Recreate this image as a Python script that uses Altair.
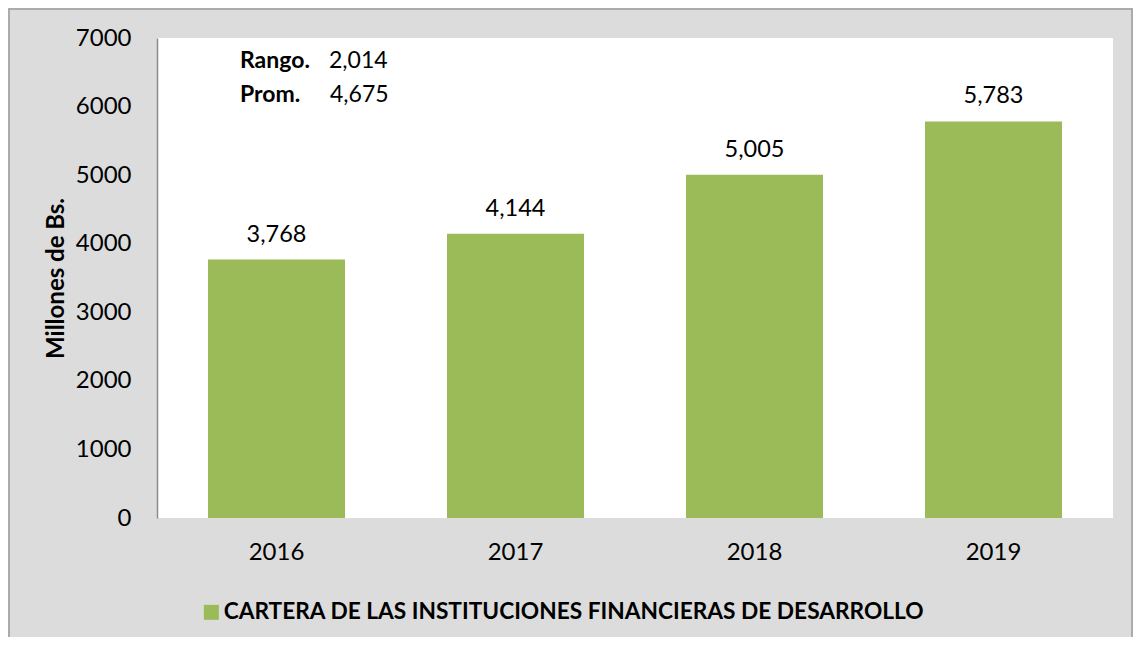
import altair as alt
import pandas as pd

years = ["2016", "2017", "2018", "2019"]
values = [3768, 4144, 5005, 5783]
series_name = "CARTERA DE LAS INSTITUCIONES FINANCIERAS DE DESARROLLO"
y_ticks = [0, 1000, 2000, 3000, 4000, 5000, 6000, 7000]
ann_labels = ["Rango.", "Prom."]
ann_values = ["2,014", "4,675"]

GREEN = "#9BBB59"
FONT = "Lato"

df = pd.DataFrame({"year": years, "value": values, "series": [series_name] * len(years)})

W, H = 956, 480
PAD_L, PAD_T, PAD_R, PAD_B = 149, 30, 20, 119

base = alt.Chart(df)

x_enc = alt.X(
    "year:N",
    scale=alt.Scale(paddingInner=0, paddingOuter=0),
    axis=alt.Axis(
        title=None, labelAngle=0, ticks=False, tickSize=0, domain=False,
        labelFontSize=24, labelFont=FONT, labelColor="#000000",
        labelPadding=34, labelBaseline="middle",
    ),
)

bars = base.mark_bar(size=137).encode(
    x=x_enc,
    y=alt.Y(
        "value:Q",
        scale=alt.Scale(domain=[0, 7000], nice=False),
        axis=alt.Axis(
            title="Millones de Bs.", values=y_ticks, grid=False, ticks=False, tickSize=0,
            domainColor="#8c8c8c", domainWidth=1.5,
            labelFontSize=24, labelFont=FONT, labelColor="#000000", labelPadding=26,
            titleFontSize=24, titleFont=FONT, titleFontWeight="bold", titleColor="#000000",
            titlePadding=7, format="d",
        ),
    ),
    color=alt.Color(
        "series:N",
        scale=alt.Scale(range=[GREEN]),
        legend=alt.Legend(
            title=None, orient="none", legendX=43, legendY=563,
            symbolType="square", symbolSize=225, symbolStrokeWidth=0,
            labelFontSize=22.7, labelFont=FONT, labelFontWeight="bold", labelColor="#000000",
            labelOffset=1, labelLimit=1000,
        ),
    ),
)

labels = base.mark_text(baseline="alphabetic", dy=-18, fontSize=23.5, font=FONT, color="#000000").encode(
    x="year:N",
    y="value:Q",
    text=alt.Text("value:Q", format=","),
)

ann_layers = []
ann_y = [30, 64]
for i, (lab, val) in enumerate(zip(ann_labels, ann_values)):
    d = pd.DataFrame({"lab": [lab], "val": [val]})
    ann_layers.append(
        alt.Chart(d).mark_text(align="left", baseline="alphabetic", fontSize=23, font=FONT,
                               fontWeight="bold", color="#000000")
        .encode(x=alt.value(83), y=alt.value(ann_y[i]), text="lab:N")
    )
    ann_layers.append(
        alt.Chart(d).mark_text(align="left", baseline="alphabetic", fontSize=23, font=FONT,
                               color="#000000")
        .encode(x=alt.value(172 if i == 0 else 173), y=alt.value(ann_y[i]), text="val:N")
    )

border = alt.Chart(pd.DataFrame({"k": [0]})).mark_rect(fill=None, stroke="#9a9a9a", strokeWidth=1.5).encode(
    x=alt.value(-PAD_L + 1), x2=alt.value(W + PAD_R - 1),
    y=alt.value(-PAD_T + 1), y2=alt.value(H + PAD_B + 5),
)

chart = alt.layer(border, bars, labels, *ann_layers).properties(
    width=W, height=H,
    autosize=alt.AutoSizeParams(type="none"),
    padding={"left": PAD_L, "top": PAD_T, "right": PAD_R, "bottom": PAD_B},
    background="#dcdcdc",
).configure_view(fill="#ffffff", stroke=None)

chart.save("out.html", embed_options={"renderer": "svg", "actions": False})
